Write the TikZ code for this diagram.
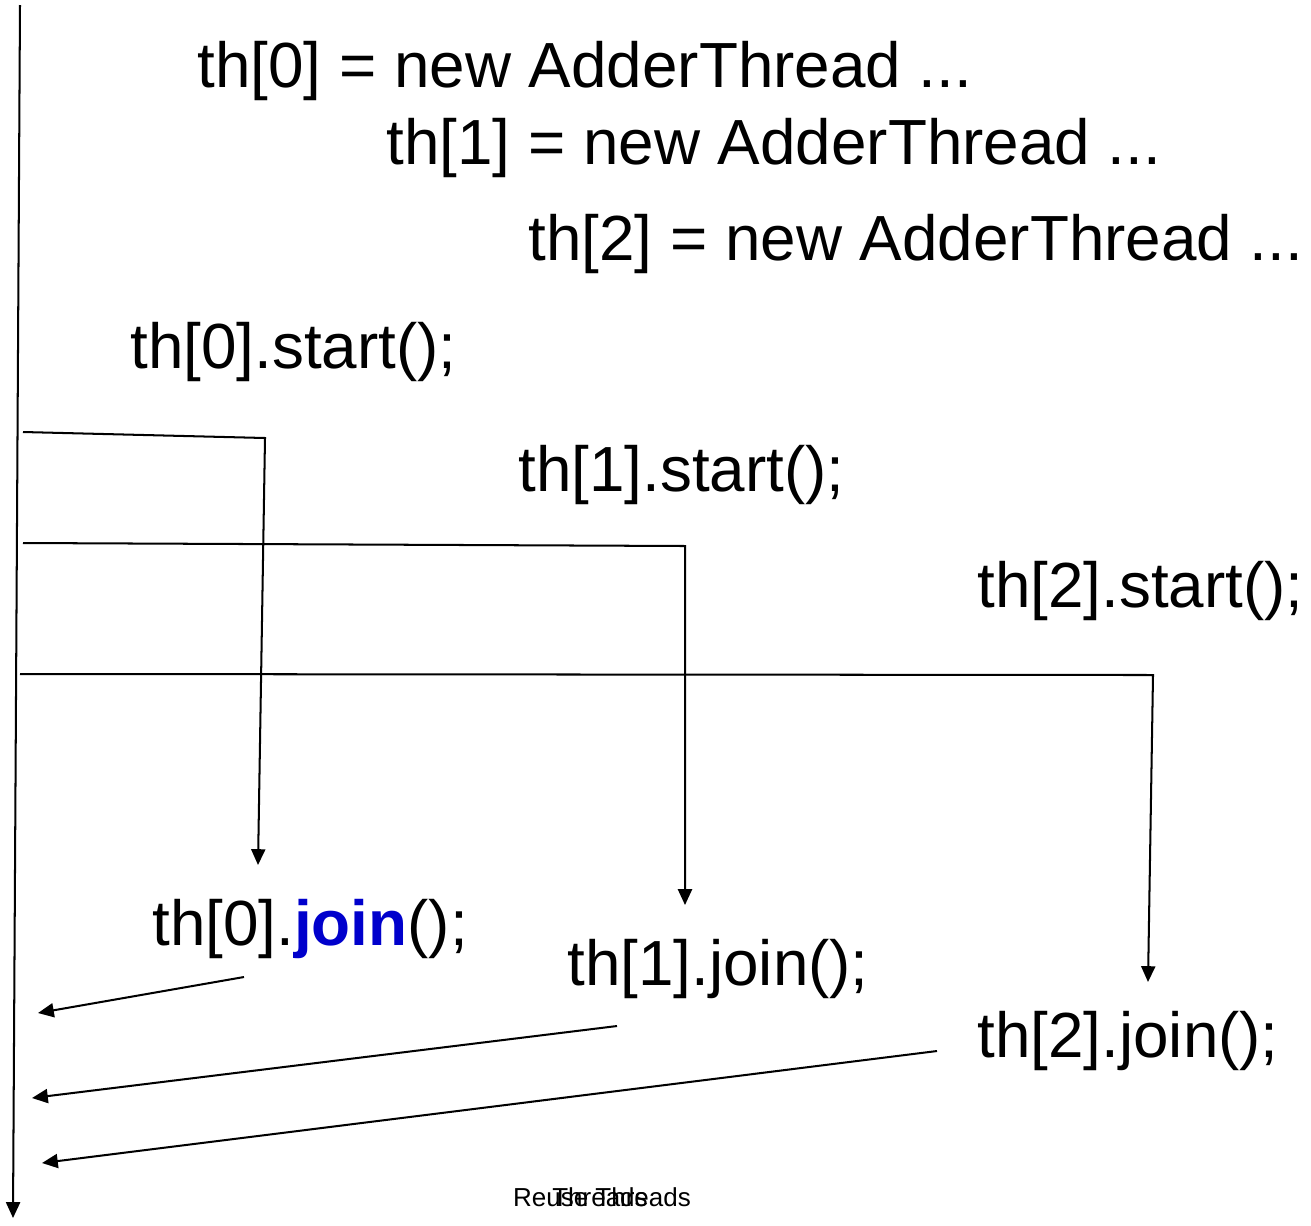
\documentclass[tikz,border=0pt]{standalone}
\usepackage{fontspec}
\setmainfont{Liberation Sans}
\usetikzlibrary{arrows.meta}
\definecolor{joinblue}{RGB}{0,0,204}
\tikzset{
	code/.style={anchor=base west,inner sep=0pt,font=\fontsize{36.3}{40}\selectfont},
	footer/.style={anchor=base,inner sep=0pt,font=\fontsize{14.8}{16}\selectfont},
	flow/.style={line width=1.15pt},
	flowarrow/.style={flow,-{Triangle[length=9pt,width=8pt]}}
}
\begin{document}
\begin{tikzpicture}[x=0.2mm,y=-0.2mm]
		\useasboundingbox (0,0) rectangle (1311,1225);
		% code lines
		\node[code] (new0) at (197,87) {th[0] = new AdderThread ...};
		\node[code] (new1) at (386,164) {th[1] = new AdderThread ...};
		\node[code] (new2) at (528,260) {th[2] = new AdderThread ...};
		\node[code] (start0) at (130,368) {th[0].start();};
		\node[code] (start1) at (518,491) {th[1].start();};
		\node[code] (start2) at (977,607) {th[2].start();};
		\node[code] (join0) at (152,945) {th[0].\textcolor{joinblue}{\textbf{join}}();};
		\node[code] (join1) at (567,985) {th[1].join();};
		\node[code] (join2) at (977,1057) {th[2].join();};
		\node[footer] (title) at (602,1206) {Reuse Threads};
		\node[footer] (sub) at (600,1206) {Threads};
		% main thread
		\coordinate (mtop) at (20,5);
		\coordinate (mbot) at (13,1218);
		\draw[flowarrow] (mtop) -- (mbot);
		% forks
		\coordinate (f0a) at (23,432);
		\coordinate (f0b) at (265,438);
		\coordinate (f0c) at (258,865);
		\coordinate (f1a) at (23,543);
		\coordinate (f1b) at (685,546);
		\coordinate (f1c) at (685,905);
		\coordinate (f2a) at (20,674);
		\coordinate (f2b) at (1153,675);
		\coordinate (f2c) at (1148,982);
		\draw[flowarrow] (f0a) -- (f0b) -- (f0c);
		\draw[flowarrow] (f1a) -- (f1b) -- (f1c);
		\draw[flowarrow] (f2a) -- (f2b) -- (f2c);
		% joins
		\coordinate (j0a) at (244,977);
		\coordinate (j0b) at (38,1013);
		\coordinate (j1a) at (617,1026);
		\coordinate (j1b) at (32,1098);
		\coordinate (j2a) at (937,1051);
		\coordinate (j2b) at (42,1163);
		\draw[flowarrow] (j0a) -- (j0b);
		\draw[flowarrow] (j1a) -- (j1b);
		\draw[flowarrow] (j2a) -- (j2b);
	\end{tikzpicture}
\end{document}
